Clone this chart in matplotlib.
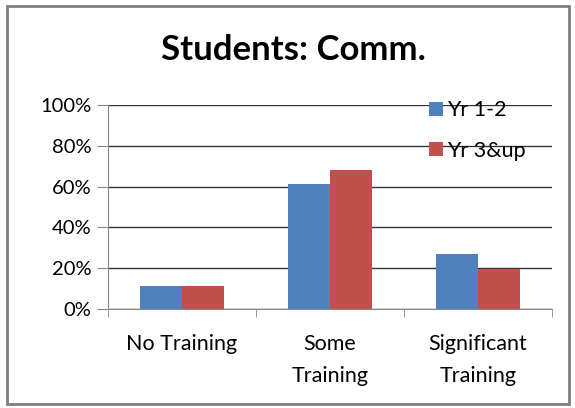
import numpy as np
import matplotlib
matplotlib.use("Agg")
import matplotlib.pyplot as plt
from matplotlib.patches import Rectangle

categories = ["No Training", "Some\nTraining", "Significant\nTraining"]
yr_1_2 = [11.3, 61.3, 27.0]
yr_3_up = [11.3, 68.3, 19.6]
series_names = ["Yr 1-2", "Yr 3&up"]
yticks = [0, 20, 40, 60, 80, 100]

plt.rcParams["font.family"] = ["Lato", "DejaVu Sans"]

fig = plt.figure(figsize=(5.75, 4.08), dpi=100)
fig.patches.append(Rectangle((0.012, 0.01), 0.977, 0.975, transform=fig.transFigure,
                             fill=False, edgecolor="#7f7f7f", linewidth=2))

ax = fig.add_axes([108 / 575, 99 / 408, 444 / 575, 204 / 408])
x = np.arange(len(categories))
w = 0.284
ax.bar(x - w / 2, yr_1_2, w, color="#4F81BD", label=series_names[0], zorder=3)
ax.bar(x + w / 2, yr_3_up, w, color="#C0504D", label=series_names[1], zorder=3)

ax.set_xlim(-0.5, len(categories) - 0.5)
ax.set_ylim(0, 100)
ax.set_yticks(yticks)
ax.set_yticklabels([f"{v}%" for v in yticks], fontsize=14.5)
ax.yaxis.grid(True, color="#333333", linewidth=1, zorder=0)
ax.tick_params(axis="y", length=8, color="#888888", pad=4)

ax.set_xticks(x)
ax.set_xticklabels(categories, fontsize=15.5, linespacing=1.75)
ax.tick_params(axis="x", length=0, pad=18)
ax.set_xticks(np.arange(-0.5, len(categories)), minor=True)
ax.tick_params(axis="x", which="minor", length=6, color="#888888")

for side in ["top", "right"]:
    ax.spines[side].set_visible(False)
ax.spines["left"].set_color("#888888")
ax.spines["bottom"].set_color("#888888")

ax.legend(loc="upper left", bbox_to_anchor=(0.703, 1.065), frameon=False,
          fontsize=15.5, handlelength=0.65, handleheight=0.65, handletextpad=0.2,
          labelspacing=0.95, borderaxespad=0)

fig.text(0.51, 0.877, "Students: Comm.", ha="center", va="center",
         fontsize=25, fontweight="bold")

fig.savefig("out.png", dpi=100)
